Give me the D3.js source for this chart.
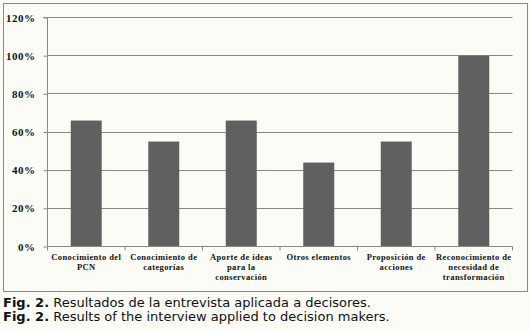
<!DOCTYPE html>
<html><head><meta charset="utf-8">
<script src="https://cdn.jsdelivr.net/npm/d3@7"></script>
<style>
html,body{margin:0;padding:0;background:#fcfcf6;}
svg{display:block;}
</style></head>
<body>
<svg id="c" width="531" height="331"></svg>
<script>
const categories = [
  ["Conocimiento del","PCN"],
  ["Conocimiento de","categorías"],
  ["Aporte de ideas","para la","conservación"],
  ["Otros elementos"],
  ["Proposición de","acciones"],
  ["Reconocimiento de","necesidad de","transformación"]
];
const values = [66, 55, 66, 44, 55, 100];
const yTicks = [0, 20, 40, 60, 80, 100, 120];
const captionEs = ["Fig. 2.", " Resultados de la entrevista aplicada a decisores."];
const captionEn = ["Fig. 2.", " Results of the interview applied to decision makers."];

(function(){
const svg = d3.select("#c");
svg.append("rect").attr("x",0).attr("y",0).attr("width",531).attr("height",331).attr("fill","#fcfcf6");
svg.append("rect").attr("x",3.5).attr("y",3.5).attr("width",524).attr("height",288)
  .attr("fill","#fcfcf6").attr("stroke","#8a8a8a").attr("stroke-width",1);

const pL = 47.5, pR = 512.5, pT = 17.5, pB = 246.5;
const idx = categories.map((d,i)=>i);
const x = d3.scaleBand().domain(idx).range([pL,pR]).paddingInner(0.6).paddingOuter(0.3);
const xb = d3.scaleBand().domain(idx).range([pL,pR]);
const y = d3.scaleLinear().domain([0,120]).range([pB,pT]);

const g = svg.append("g");
g.selectAll("line.grid").data(yTicks.filter(t=>t>0)).join("line")
  .attr("x1",pL).attr("x2",pR)
  .attr("y1",d=>Math.round(y(d)-0.5)+0.5).attr("y2",d=>Math.round(y(d)-0.5)+0.5)
  .attr("stroke","#888888").attr("stroke-width",1);

g.selectAll("rect.bar").data(values).join("rect")
  .attr("x",(d,i)=>x(i)).attr("width",x.bandwidth())
  .attr("y",d=>y(d)).attr("height",d=>y(0)-y(d))
  .attr("fill","#606060");

const yAxis = d3.axisLeft(y).tickValues(yTicks).tickFormat(d=>d+"%").tickSize(4).tickPadding(8);
const ya = svg.append("g").attr("transform",`translate(${pL},0)`).call(yAxis);
ya.select(".domain").attr("stroke","#888888").attr("d",`M-4,${pT}H0V${pB}`);
ya.selectAll(".tick line").attr("stroke","#888888");
ya.selectAll(".tick text").attr("fill","#111").style("font-family","'Liberation Serif','Times New Roman',serif")
  .style("font-size","11px").style("font-weight","bold").style("letter-spacing","0.5px");

const xa = svg.append("g").attr("transform",`translate(0,${pB})`);
xa.append("path").attr("stroke","#888888").attr("fill","none").attr("d",`M${pL},0H${pR}`);
xa.selectAll("line.sep").data(idx.concat([idx.length])).join("line")
  .attr("x1",d=> (d<idx.length? xb(d): pR)).attr("x2",d=> (d<idx.length? xb(d): pR))
  .attr("y1",0).attr("y2",4).attr("stroke","#888888");

const lab = svg.append("g");
categories.forEach((lines,i)=>{
  const cx = xb(i)+xb.bandwidth()/2;
  const t = lab.append("text").attr("x",cx).attr("y",259.5)
    .attr("text-anchor","middle").attr("fill","#111")
    .style("font-family","'Liberation Serif','Times New Roman',serif")
    .style("font-size","8.5px").style("font-weight","bold").style("letter-spacing","0.4px");
  lines.forEach((l,j)=>{
    t.append("tspan").attr("x",cx).attr("dy",j===0?0:10).text(l);
  });
});

function caption(parts, yy){
  const t = svg.append("text").attr("x",3).attr("y",yy).attr("fill","#111")
    .style("font-family","'DejaVu Sans',Verdana,sans-serif").style("font-size","13px");
  t.append("tspan").style("font-weight","bold").text(parts[0]);
  t.append("tspan").text(parts[1]);
}
caption(captionEs, 306.5);
caption(captionEn, 320.5);
})();
</script>
</body></html>
